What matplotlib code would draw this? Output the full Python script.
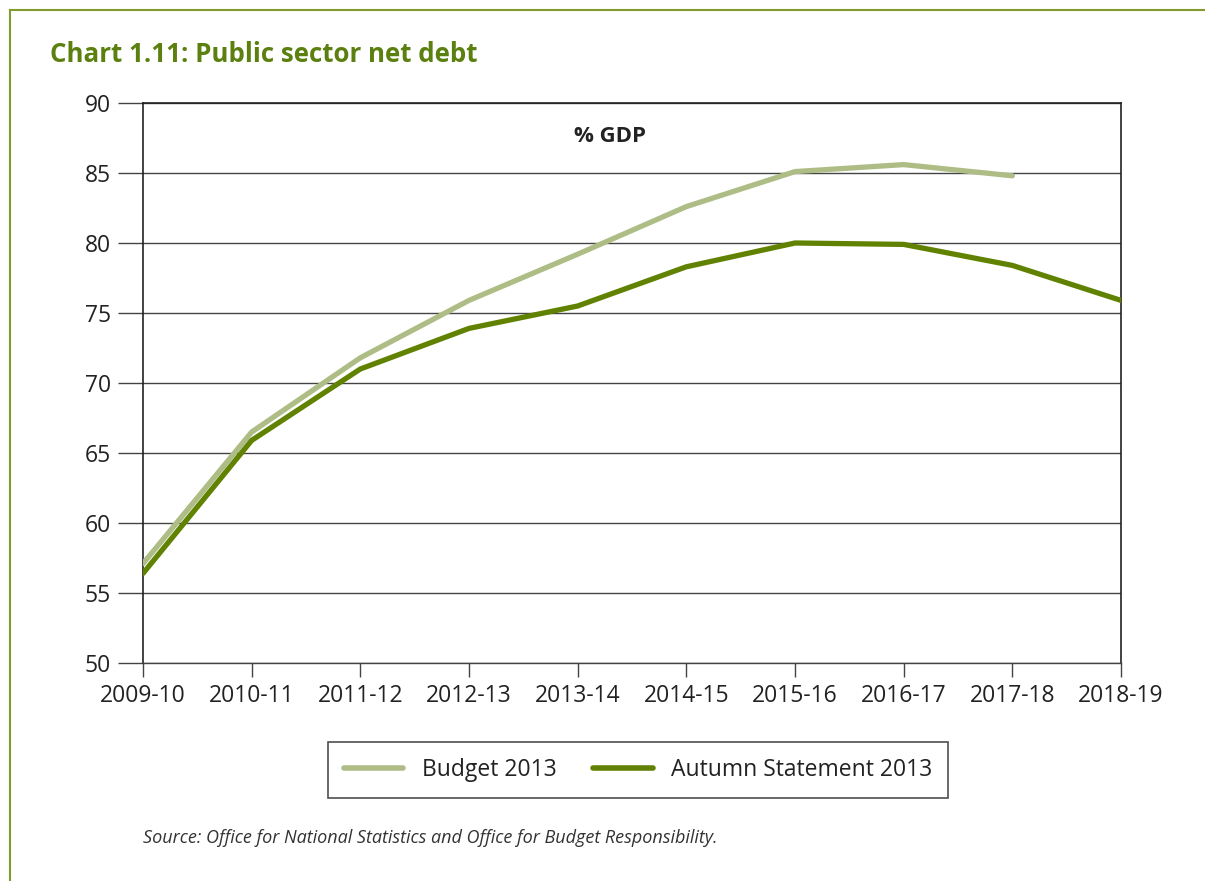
import matplotlib
matplotlib.use("Agg")
import matplotlib.pyplot as plt
from matplotlib.lines import Line2D

# ==========================================
# DATA
# ==========================================
years = ["2009-10", "2010-11", "2011-12", "2012-13", "2013-14",
         "2014-15", "2015-16", "2016-17", "2017-18", "2018-19"]
budget_2013 = [57.1, 66.5, 71.8, 75.9, 79.2, 82.6, 85.1, 85.6, 84.8]
autumn_2013 = [56.4, 65.9, 71.0, 73.9, 75.5, 78.3, 80.0, 79.9, 78.4, 75.9]
y_ticks = [50, 55, 60, 65, 70, 75, 80, 85, 90]

# ==========================================
# STYLE
# ==========================================
DARK_GREEN = "#608200"
LIGHT_GREEN = "#adbd85"
TITLE_GREEN = "#5b8010"
FRAME_GREEN = "#7f9c2c"
GRID = "#444444"

plt.rcParams["font.family"] = ["Open Sans", "DejaVu Sans"]

fig = plt.figure(figsize=(12.05, 8.81), dpi=100)
W, H = 1205, 881

# axes placed by pixel box: left 143, right 1121, top 103, bottom 663
ax = fig.add_axes([143 / W, 1 - 663 / H, (1121 - 143) / W, (663 - 103) / H])

x = list(range(len(years)))
ax.plot(x[:len(budget_2013)], budget_2013, color=LIGHT_GREEN, lw=3.8,
        solid_capstyle="round", solid_joinstyle="round", zorder=3,
        label="Budget 2013")
ax.plot(x, autumn_2013, color=DARK_GREEN, lw=3.8,
        solid_capstyle="round", solid_joinstyle="round", zorder=4,
        label="Autumn Statement 2013")

ax.set_xlim(0, len(years) - 1)
ax.set_ylim(50, 90)
ax.set_yticks(y_ticks)
ax.set_xticks(x)
ax.set_xticklabels(years)
ax.grid(axis="y", color=GRID, lw=1.0)
ax.set_axisbelow(True)

for side in ["left", "right", "top"]:
    ax.spines[side].set_color("#222222")
    ax.spines[side].set_linewidth(1.2)
ax.spines["bottom"].set_color(GRID)
ax.spines["bottom"].set_linewidth(1.0)

ax.tick_params(axis="y", length=18, width=1.0, color=GRID, pad=5,
               labelsize=16.5, labelcolor="#222222")
ax.tick_params(axis="x", length=10, width=1.0, color=GRID, pad=5,
               labelsize=16.5, labelcolor="#222222")

ax.text(0.477, 0.94, "% GDP", transform=ax.transAxes, ha="center",
        va="center", fontsize=16, fontweight="bold", color="#222222")

# Legend
handles = [Line2D([], [], color=LIGHT_GREEN, lw=4, solid_capstyle="round"),
           Line2D([], [], color=DARK_GREEN, lw=4, solid_capstyle="round")]
leg = fig.legend(handles, ["Budget 2013", "Autumn Statement 2013"],
                 loc="center", bbox_to_anchor=(638 / W, 1 - 770 / H),
                 ncol=2, fontsize=16.5, frameon=True, fancybox=False,
                 handlelength=2.6, handletextpad=0.8, columnspacing=1.6,
                 borderpad=0.7, borderaxespad=0)
leg.get_frame().set_edgecolor("#222222")
leg.get_frame().set_linewidth(1.2)
for t in leg.get_texts():
    t.set_color("#222222")

# Title
fig.text(50 / W, 1 - 54 / H, "Chart 1.11: Public sector net debt",
         ha="left", va="center", fontsize=18.6, fontweight="bold",
         color=TITLE_GREEN)

# Source
fig.text(143 / W, 1 - 838 / H,
         "Source: Office for National Statistics and Office for Budget Responsibility.",
         ha="left", va="center", fontsize=13, style="italic", color="#333333")

# Green frame (top and left edges)
fig.add_artist(Line2D([10 / W, 1], [1 - 10 / H, 1 - 10 / H],
                      transform=fig.transFigure, color=FRAME_GREEN, lw=1.5))
fig.add_artist(Line2D([10 / W, 10 / W], [0, 1 - 10 / H],
                      transform=fig.transFigure, color=FRAME_GREEN, lw=1.5))

fig.savefig("out.png", dpi=100)
